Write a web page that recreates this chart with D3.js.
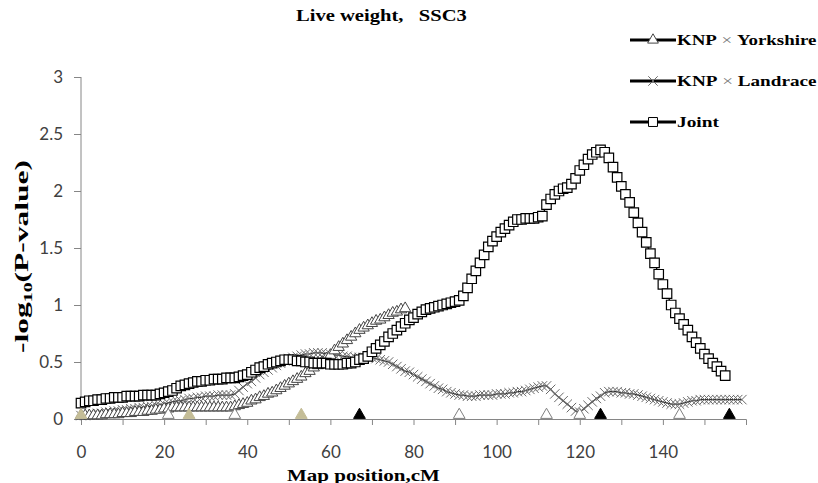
<!DOCTYPE html>
<html>
<head>
<meta charset="utf-8">
<title>Live weight, SSC3</title>
<style>
  body { margin: 0; background: #fff; }
  .tick text { font-family: Lato, "Noto Sans", sans-serif; font-size: 17px; fill: #404040; }
  .serif { font-family: "Liberation Serif", "Times New Roman", serif; font-weight: bold; fill: #000; }
</style>
</head>
<body>
<div id="chart"></div>
<script src="https://cdnjs.cloudflare.com/ajax/libs/d3/7.8.5/d3.min.js"></script>
<script>
// -log10(P) along SSC3, one value per cM
var yorkshire = [0.03,0.03,0.03,0.03,0.03,0.03,0.04,0.04,0.04,0.04,
  0.05,0.05,0.05,0.06,0.06,0.06,0.07,0.07,0.08,0.08,
  0.09,0.09,0.10,0.10,0.10,0.10,0.10,0.10,0.10,0.10,
  0.10,0.10,0.10,0.10,0.10,0.10,0.10,0.11,0.12,0.13,
  0.14,0.16,0.17,0.19,0.20,0.22,0.23,0.25,0.27,0.29,
  0.31,0.33,0.35,0.37,0.40,0.42,0.45,0.47,0.50,0.53,
  0.56,0.60,0.63,0.66,0.69,0.72,0.75,0.78,0.80,0.82,
  0.84,0.86,0.87,0.89,0.91,0.93,0.94,0.96,0.97];

var landrace = [0.03,0.03,0.04,0.04,0.05,0.05,0.06,0.06,0.07,0.07,
  0.08,0.08,0.09,0.09,0.10,0.10,0.11,0.11,0.12,0.12,
  0.13,0.14,0.15,0.16,0.16,0.17,0.18,0.18,0.19,0.19,
  0.20,0.20,0.20,0.21,0.21,0.21,0.21,0.22,0.25,0.28,
  0.31,0.33,0.36,0.39,0.41,0.43,0.45,0.47,0.49,0.51,
  0.53,0.54,0.55,0.56,0.57,0.57,0.58,0.58,0.58,0.57,
  0.57,0.56,0.56,0.55,0.55,0.54,0.54,0.54,0.54,0.54,
  0.54,0.53,0.52,0.51,0.50,0.48,0.46,0.44,0.42,0.41,
  0.39,0.37,0.35,0.33,0.31,0.29,0.27,0.26,0.24,0.23,
  0.22,0.21,0.21,0.20,0.20,0.20,0.21,0.21,0.21,0.21,
  0.22,0.22,0.22,0.23,0.23,0.24,0.24,0.25,0.26,0.27,
  0.28,0.29,0.29,0.26,0.22,0.19,0.16,0.13,0.10,0.07,
  0.06,0.09,0.12,0.15,0.18,0.20,0.23,0.24,0.24,0.24,
  0.23,0.23,0.22,0.22,0.21,0.20,0.19,0.18,0.17,0.16,
  0.15,0.14,0.13,0.13,0.13,0.14,0.15,0.16,0.16,0.17,
  0.17,0.17,0.17,0.17,0.17,0.17,0.17,0.17,0.17,0.17];

var joint = [0.14,0.15,0.16,0.16,0.17,0.17,0.18,0.18,0.19,0.19,
  0.19,0.20,0.20,0.20,0.20,0.21,0.21,0.21,0.21,0.22,
  0.23,0.24,0.25,0.27,0.29,0.30,0.31,0.32,0.33,0.33,
  0.34,0.34,0.35,0.35,0.35,0.36,0.36,0.36,0.37,0.38,
  0.39,0.41,0.43,0.45,0.46,0.48,0.49,0.50,0.51,0.52,
  0.52,0.52,0.51,0.51,0.50,0.50,0.49,0.49,0.49,0.49,
  0.48,0.48,0.48,0.48,0.49,0.49,0.50,0.52,0.53,0.55,
  0.59,0.62,0.65,0.68,0.72,0.75,0.78,0.81,0.84,0.87,
  0.89,0.92,0.94,0.96,0.97,0.98,0.99,1.00,1.01,1.02,
  1.03,1.04,1.08,1.15,1.23,1.30,1.37,1.44,1.51,1.56,
  1.60,1.64,1.67,1.70,1.73,1.75,1.75,1.76,1.76,1.76,
  1.77,1.78,1.88,1.93,1.97,2.00,2.02,2.03,2.06,2.11,
  2.18,2.23,2.28,2.32,2.34,2.36,2.34,2.29,2.21,2.12,
  2.04,1.97,1.90,1.81,1.72,1.64,1.55,1.45,1.37,1.27,
  1.18,1.10,1.00,0.93,0.88,0.83,0.78,0.72,0.67,0.62,
  0.57,0.53,0.49,0.46,0.42,0.38];

// map positions of the markers on the chromosome
var markerCM   = [0, 21, 26, 37, 53, 67, 91, 112, 120, 125, 144, 156];
var markerKind = ["tan","white","tan","white","tan","black","white","white","white","black","white","black"];

var xTicks = [0, 20, 40, 60, 80, 100, 120, 140];
var yTicks = [0, 0.5, 1, 1.5, 2, 2.5, 3];

var legendNames  = ["KNP", "KNP", "Joint"];
var legendBreeds = ["Yorkshire", "Landrace", ""];

var width = 818, height = 483;
var margin = {left: 81, right: 72, top: 77, bottom: 64};

var svg = d3.select("#chart").append("svg")
    .attr("width", width)
    .attr("height", height);

var x = d3.scaleLinear().domain([0, 160]).range([margin.left, 746]);
var y = d3.scaleLinear().domain([0, 3]).range([height - margin.bottom, margin.top]);

// axes
var xAxis = svg.append("g")
    .attr("transform", "translate(0," + y(0) + ")")
    .call(d3.axisBottom(x).tickValues(d3.range(0, 160, 10)).tickSize(6).tickFormat(""));
xAxis.selectAll("path, line").attr("stroke", "#868686");
svg.append("g")
    .attr("transform", "translate(0," + y(0) + ")")
    .call(d3.axisBottom(x).tickValues(xTicks).tickSize(0).tickPadding(27))
    .call(g => g.select(".domain").remove());

var yAxis = svg.append("g")
    .attr("transform", "translate(" + x(0) + ",0)")
    .call(d3.axisLeft(y).tickValues(yTicks).tickSize(7).tickPadding(11).tickFormat(d3.format("")));
yAxis.selectAll("path, line").attr("stroke", "#868686");
yAxis.select(".domain").attr("d", "M0," + y(3) + "V" + y(0));

var symX = d3.symbolX || d3.symbolCross;

function drawSeries(vals, stroke, lineColor, symType, size, fill, sw) {
    var pts = vals.map(function(v, i) { return [i, v]; });
    svg.append("path")
        .datum(pts)
        .attr("fill", "none")
        .attr("stroke", lineColor)
        .attr("stroke-width", 1.2)
        .attr("d", d3.line().x(d => x(d[0])).y(d => y(d[1])));
    svg.append("g").selectAll("path")
        .data(pts)
        .enter().append("path")
        .attr("transform", d => "translate(" + x(d[0]) + "," + y(d[1]) + ")")
        .attr("d", d3.symbol().type(symType).size(size))
        .attr("fill", fill)
        .attr("stroke", stroke)
        .attr("stroke-width", sw);
}

drawSeries(landrace, "#6a6a6a", "#333", symX, 60, "none", 1);
drawSeries(yorkshire, "#444", "#333", d3.symbolTriangle, 55, "#fff", 1);
drawSeries(joint, "#000", "#000", d3.symbolSquare, 90, "#fff", 1.2);

// marker positions along the axis
var markerFill = {tan: "#c4bd97", white: "#fff", black: "#000"};
var markerStroke = {tan: "#c4bd97", white: "#7f7f7f", black: "#000"};
svg.append("g").selectAll("path")
    .data(markerCM)
    .enter().append("path")
    .attr("transform", d => "translate(" + x(d) + "," + (y(0) - 4) + ")")
    .attr("d", d3.symbol().type(d3.symbolTriangle).size(60))
    .attr("fill", (d, i) => markerFill[markerKind[i]])
    .attr("stroke", (d, i) => markerStroke[markerKind[i]])
    .attr("stroke-width", 1);

// the original picture is stretched, so stretch each text to its width
function stretch(sel, x0, y0, w, rot) {
    var bw = sel.node().getBBox().width;
    sel.attr("transform", "translate(" + x0 + "," + y0 + ")" + (rot ? " rotate(-90)" : "") +
        " scale(" + (w / bw) + ",1)");
}

var title = svg.append("text")
    .attr("class", "serif")
    .attr("font-size", 17)
    .style("white-space", "pre")
    .text("Live weight,   SSC3");
stretch(title, 296, 21, 171);

var xl = svg.append("text")
    .attr("class", "serif")
    .attr("font-size", 16)
    .text("Map position,cM");
stretch(xl, 287, 481, 153);

var yl = svg.append("text")
    .attr("class", "serif")
    .attr("font-size", 19);
yl.append("tspan").text("-log");
yl.append("tspan").attr("font-size", 12).attr("dy", 4).text("10");
yl.append("tspan").attr("dy", -4).text("(P-value)");
stretch(yl, 28, 353, 193, true);

// legend
var legendSym = [d3.symbolTriangle, symX, d3.symbolSquare];
var legendStroke = ["#444", "#6a6a6a", "#000"];
var legendFill = ["#fff", "none", "#fff"];
var legendSize = [50, 60, 80];
var legendLen = [140, 140, 42];
var lg = svg.append("g").selectAll("g")
    .data(d3.range(legendNames.length))
    .enter().append("g")
    .attr("transform", i => "translate(630," + (40 + i * 41) + ")");
lg.append("line")
    .attr("x1", 0).attr("x2", 46)
    .attr("stroke", "#000").attr("stroke-width", 3);
lg.append("path")
    .attr("transform", "translate(23,0)")
    .attr("d", i => d3.symbol().type(legendSym[i]).size(legendSize[i])())
    .attr("fill", i => legendFill[i])
    .attr("stroke", i => legendStroke[i]);
lg.each(function(i) {
    var t = d3.select(this).append("text")
        .attr("class", "serif")
        .attr("font-size", 15);
    t.append("tspan").text(legendNames[i]);
    if (legendBreeds[i] !== "") {
        t.append("tspan").attr("font-weight", "normal").attr("fill", "#777").text(" \u00d7 ");
        t.append("tspan").text(legendBreeds[i]);
    }
    stretch(t, 47, 5, legendLen[i]);
});
</script>
</body>
</html>
